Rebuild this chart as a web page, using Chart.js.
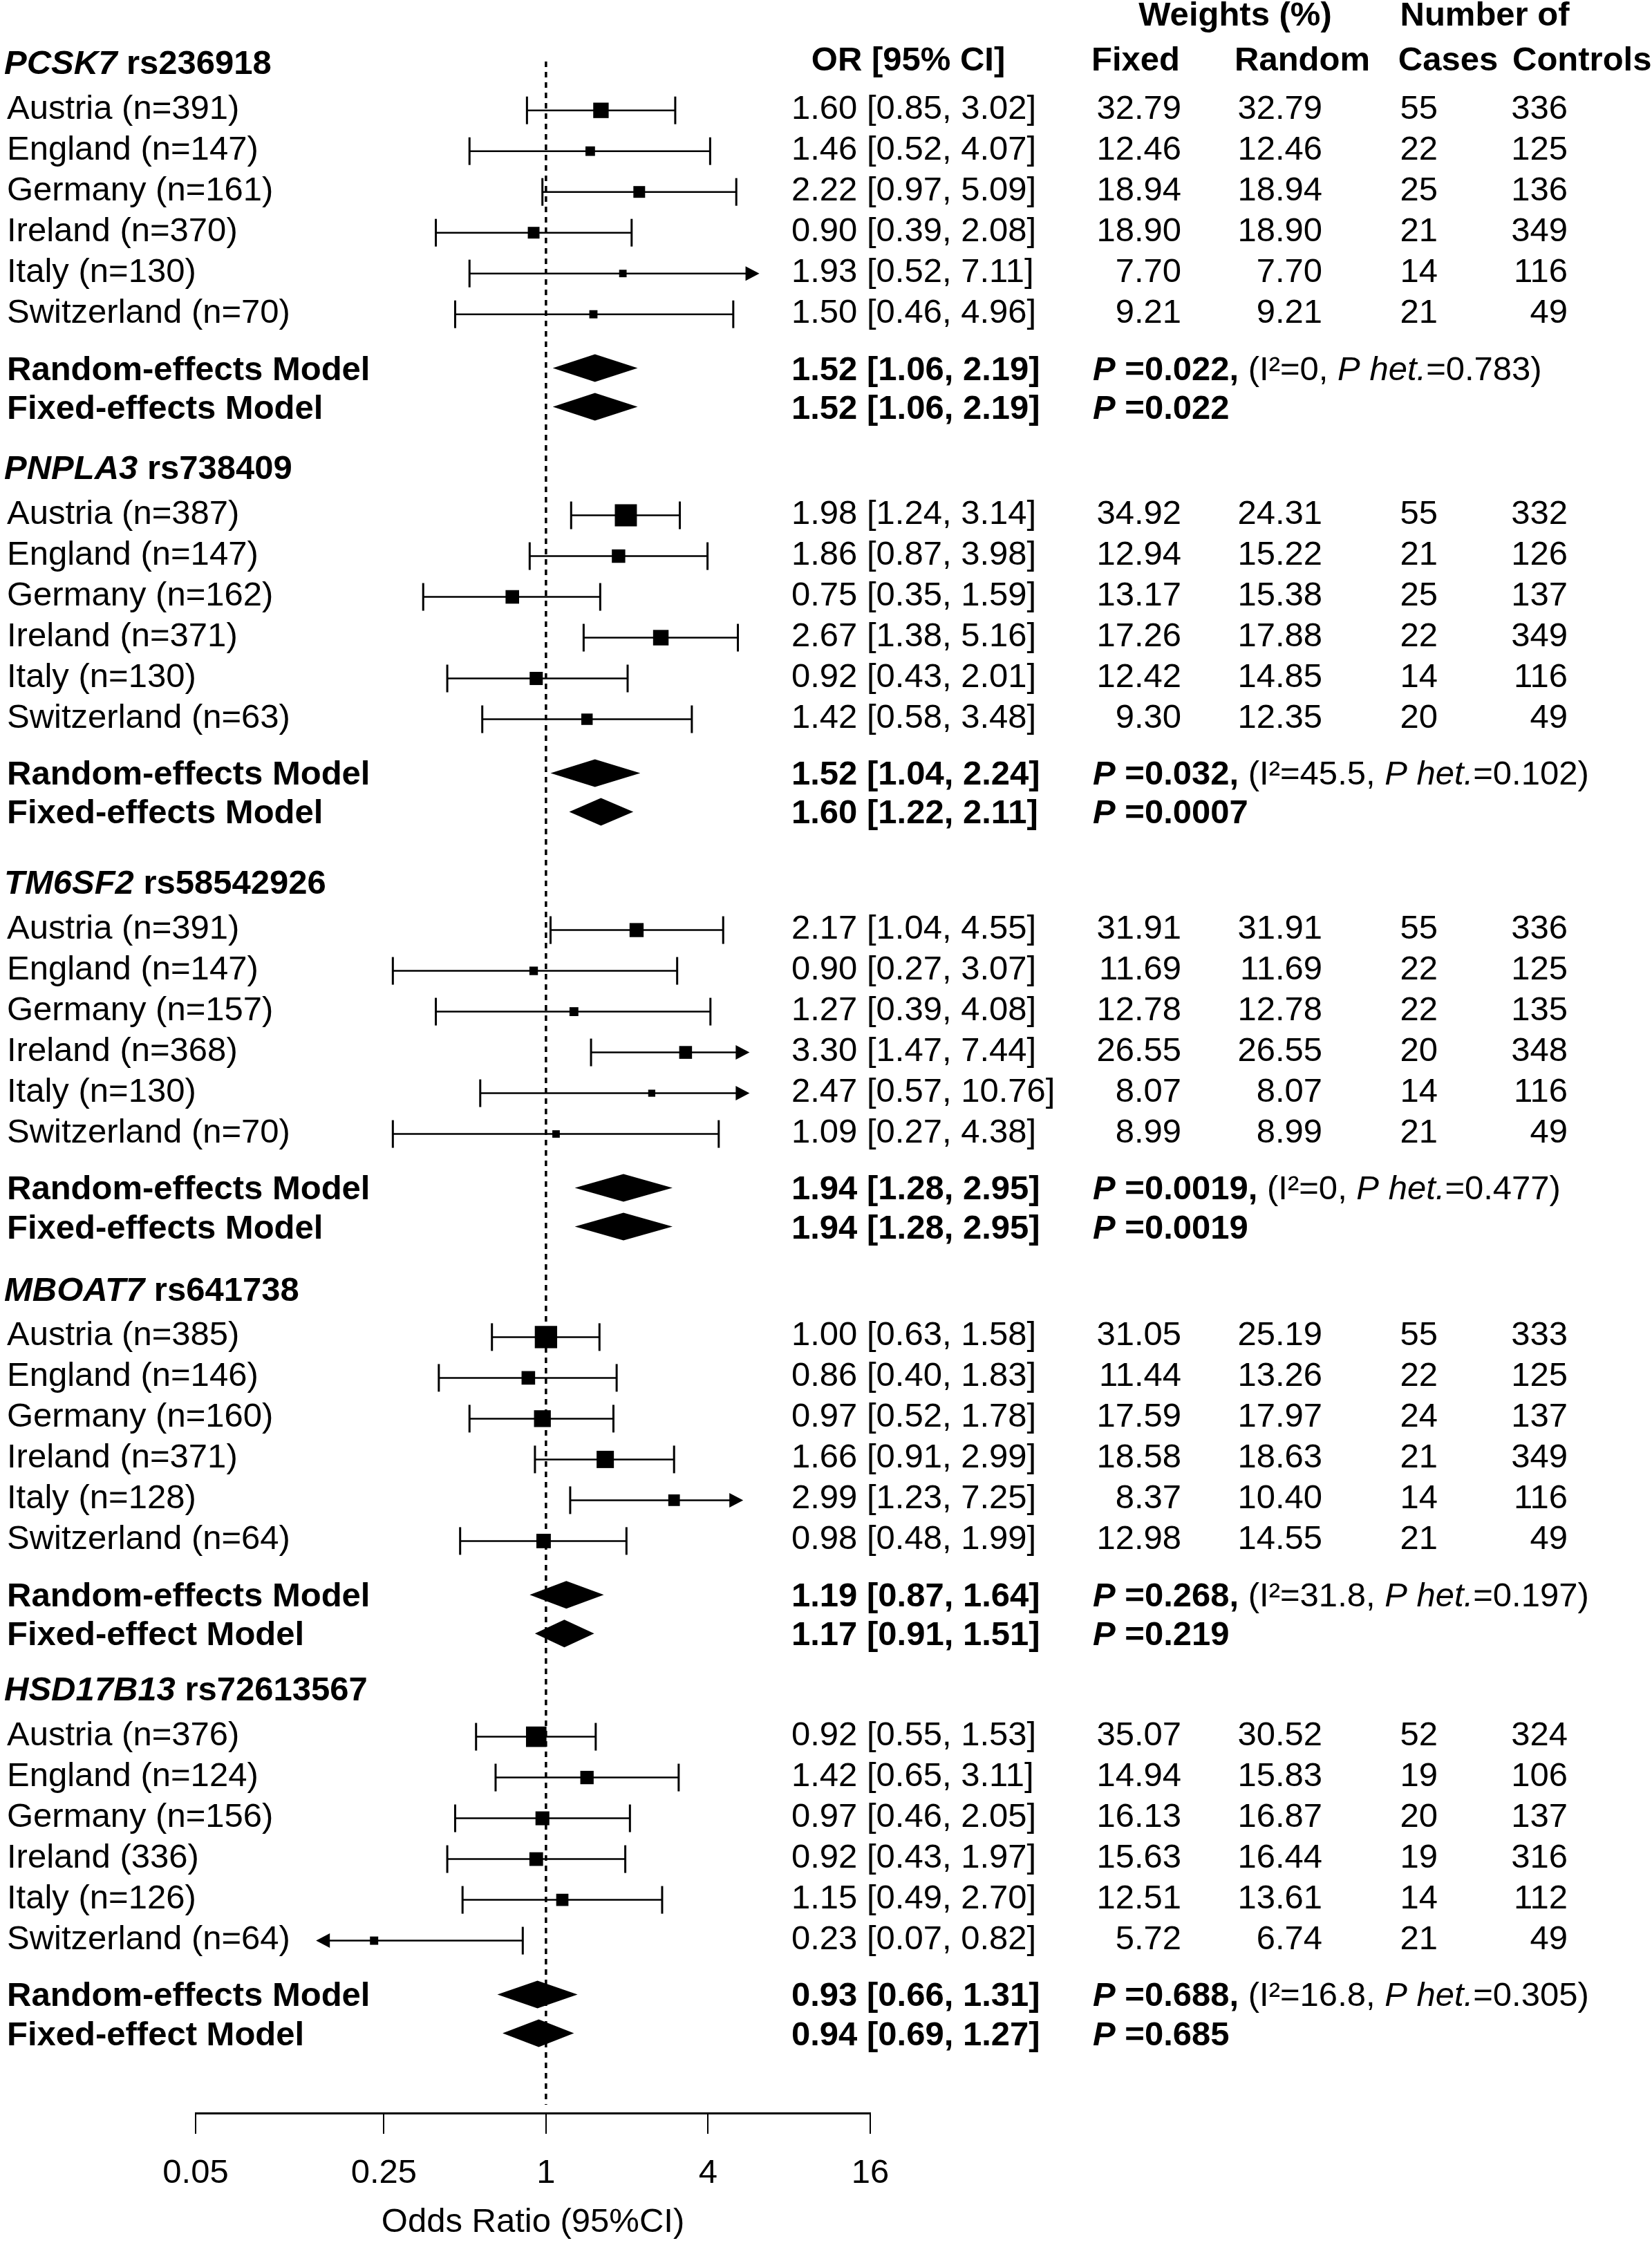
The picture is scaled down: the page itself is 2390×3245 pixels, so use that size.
<!DOCTYPE html>
<html>
<head>
<meta charset="utf-8">
<script src="https://cdn.jsdelivr.net/npm/chart.js@4.4.1/dist/chart.umd.min.js"></script>
<style>
  html, body { margin: 0; padding: 0; background: #fff; }
  canvas { display: block; }
</style>
</head>
<body>
<canvas id="forest" width="2390" height="3245"></canvas>
<script>
const genes = ['PCSK7', 'PNPLA3', 'TM6SF2', 'MBOAT7', 'HSD17B13'];
const snps = ['rs236918', 'rs738409', 'rs58542926', 'rs641738', 'rs72613567'];

const studyLabels = [
  ['Austria (n=391)', 'England (n=147)', 'Germany (n=161)', 'Ireland (n=370)', 'Italy (n=130)', 'Switzerland (n=70)'],
  ['Austria (n=387)', 'England (n=147)', 'Germany (n=162)', 'Ireland (n=371)', 'Italy (n=130)', 'Switzerland (n=63)'],
  ['Austria (n=391)', 'England (n=147)', 'Germany (n=157)', 'Ireland (n=368)', 'Italy (n=130)', 'Switzerland (n=70)'],
  ['Austria (n=385)', 'England (n=146)', 'Germany (n=160)', 'Ireland (n=371)', 'Italy (n=128)', 'Switzerland (n=64)'],
  ['Austria (n=376)', 'England (n=124)', 'Germany (n=156)', 'Ireland (336)', 'Italy (n=126)', 'Switzerland (n=64)']
];
const orEst = [
  [1.60, 1.46, 2.22, 0.90, 1.93, 1.50],
  [1.98, 1.86, 0.75, 2.67, 0.92, 1.42],
  [2.17, 0.90, 1.27, 3.30, 2.47, 1.09],
  [1.00, 0.86, 0.97, 1.66, 2.99, 0.98],
  [0.92, 1.42, 0.97, 0.92, 1.15, 0.23]
];
const orLo = [
  [0.85, 0.52, 0.97, 0.39, 0.52, 0.46],
  [1.24, 0.87, 0.35, 1.38, 0.43, 0.58],
  [1.04, 0.27, 0.39, 1.47, 0.57, 0.27],
  [0.63, 0.40, 0.52, 0.91, 1.23, 0.48],
  [0.55, 0.65, 0.46, 0.43, 0.49, 0.07]
];
const orHi = [
  [3.02, 4.07, 5.09, 2.08, 7.11, 4.96],
  [3.14, 3.98, 1.59, 5.16, 2.01, 3.48],
  [4.55, 3.07, 4.08, 7.44, 10.76, 4.38],
  [1.58, 1.83, 1.78, 2.99, 7.25, 1.99],
  [1.53, 3.11, 2.05, 1.97, 2.70, 0.82]
];
const weightFixed = [
  [32.79, 12.46, 18.94, 18.90, 7.70, 9.21],
  [34.92, 12.94, 13.17, 17.26, 12.42, 9.30],
  [31.91, 11.69, 12.78, 26.55, 8.07, 8.99],
  [31.05, 11.44, 17.59, 18.58, 8.37, 12.98],
  [35.07, 14.94, 16.13, 15.63, 12.51, 5.72]
];
const weightRandom = [
  [32.79, 12.46, 18.94, 18.90, 7.70, 9.21],
  [24.31, 15.22, 15.38, 17.88, 14.85, 12.35],
  [31.91, 11.69, 12.78, 26.55, 8.07, 8.99],
  [25.19, 13.26, 17.97, 18.63, 10.40, 14.55],
  [30.52, 15.83, 16.87, 16.44, 13.61, 6.74]
];
const cases = [
  [55, 22, 25, 21, 14, 21],
  [55, 21, 25, 22, 14, 20],
  [55, 22, 22, 20, 14, 21],
  [55, 22, 24, 21, 14, 21],
  [52, 19, 20, 19, 14, 21]
];
const controls = [
  [336, 125, 136, 349, 116, 49],
  [332, 126, 137, 349, 116, 49],
  [336, 125, 135, 348, 116, 49],
  [333, 125, 137, 349, 116, 49],
  [324, 106, 137, 316, 112, 49]
];

// pooled estimates
const randomEst = [1.52, 1.52, 1.94, 1.19, 0.93];
const randomLo = [1.06, 1.04, 1.28, 0.87, 0.66];
const randomHi = [2.19, 2.24, 2.95, 1.64, 1.31];
const randomP = ['0.022', '0.032', '0.0019', '0.268', '0.688'];
const iSquared = ['0', '45.5', '0', '31.8', '16.8'];
const pHet = ['0.783', '0.102', '0.477', '0.197', '0.305'];
const fixedEst = [1.52, 1.60, 1.94, 1.17, 0.94];
const fixedLo = [1.06, 1.22, 1.28, 0.91, 0.69];
const fixedHi = [2.19, 2.11, 2.95, 1.51, 1.27];
const fixedP = ['0.022', '0.0007', '0.0019', '0.219', '0.685'];
const fixedLabels = ['Fixed-effects Model', 'Fixed-effects Model', 'Fixed-effects Model', 'Fixed-effect Model', 'Fixed-effect Model'];

// x axis ticks
const tickValues = [0.05, 0.25, 1, 4, 16];
// intervals running past these limits end in an arrow (one pair per panel)
const arrowLo = [0.05, 0.05, 0.05, 0.05, 0.14];
const arrowHi = [6.2, 16, 5.7, 5.4, 16];

// Layout
const FONT = '"Liberation Sans", Arial, Helvetica, sans-serif';
const FS = 49;
const blockTop = [0, 9.93, 20.1, 30.08, 39.88]; // in row units
const boxScale = [3.9, 5.4, 3.6, 5.8, 5.0];    // square side per sqrt(weight)
const col = { label: 10, or: 1145, wf: 1709, wr: 1913, cases: 2080, controls: 2268, p: 1581 };

Chart.defaults.font.family = FONT;

const studyRow = (g, i) => blockTop[g] + 1.13 + i;
const randomRow = g => blockTop[g] + 7.45;
const fixedRow = g => blockTop[g] + 8.4;

function fmtCI(est, lo, hi) {
  return `${est.toFixed(2)} [${lo.toFixed(2)}, ${hi.toFixed(2)}]`;
}

function runs(ctx, x, y, parts) {
  parts.forEach(([text, style]) => {
    ctx.font = `${style} ${FS}px ${FONT}`;
    ctx.fillText(text, x, y);
    x += ctx.measureText(text).width;
  });
}

function diamond(ctx, x, py, est, lo, hi) {
  ctx.beginPath();
  ctx.moveTo(x.getPixelForValue(lo), py);
  ctx.lineTo(x.getPixelForValue(est), py - 20);
  ctx.lineTo(x.getPixelForValue(hi), py);
  ctx.lineTo(x.getPixelForValue(est), py + 20);
  ctx.closePath();
  ctx.fill();
}

const forestPlugin = {
  id: 'forest',
  beforeDatasetsDraw(chart) {
    const { ctx, chartArea } = chart;
    const { x, y } = chart.scales;
    ctx.save();
    ctx.strokeStyle = '#000';
    ctx.fillStyle = '#000';

    // reference line at OR = 1
    const x1 = x.getPixelForValue(1);
    ctx.lineWidth = 3.5;
    ctx.setLineDash([8, 7]);
    ctx.beginPath();
    ctx.moveTo(x1, chartArea.top + 89);
    ctx.lineTo(x1, chartArea.bottom - 12);
    ctx.stroke();
    ctx.setLineDash([]);

    genes.forEach((gene, g) => {
      orEst[g].forEach((est, i) => {
        const py = y.getPixelForValue(studyRow(g, i));
        const cutLo = orLo[g][i] < arrowLo[g];
        const cutHi = orHi[g][i] > arrowHi[g];
        const xl = x.getPixelForValue(cutLo ? arrowLo[g] : orLo[g][i]);
        const xh = x.getPixelForValue(cutHi ? arrowHi[g] : orHi[g][i]);

        ctx.lineWidth = 2.5;
        ctx.beginPath();
        ctx.moveTo(cutLo ? xl + 18 : xl, py);
        ctx.lineTo(cutHi ? xh - 18 : xh, py);
        ctx.stroke();

        ctx.lineWidth = 3;
        if (cutLo) {
          ctx.beginPath();
          ctx.moveTo(xl, py);
          ctx.lineTo(xl + 20, py - 10.5);
          ctx.lineTo(xl + 20, py + 10.5);
          ctx.closePath();
          ctx.fill();
        } else {
          ctx.beginPath();
          ctx.moveTo(xl, py - 20);
          ctx.lineTo(xl, py + 20);
          ctx.stroke();
        }
        if (cutHi) {
          ctx.beginPath();
          ctx.moveTo(xh, py);
          ctx.lineTo(xh - 20, py - 10.5);
          ctx.lineTo(xh - 20, py + 10.5);
          ctx.closePath();
          ctx.fill();
        } else {
          ctx.beginPath();
          ctx.moveTo(xh, py - 20);
          ctx.lineTo(xh, py + 20);
          ctx.stroke();
        }
      });

      diamond(ctx, x, y.getPixelForValue(randomRow(g)), randomEst[g], randomLo[g], randomHi[g]);
      diamond(ctx, x, y.getPixelForValue(fixedRow(g)), fixedEst[g], fixedLo[g], fixedHi[g]);
    });
    ctx.restore();
  },

  afterDraw(chart) {
    const { ctx, chartArea } = chart;
    const { y } = chart.scales;
    const top = chartArea.top;
    ctx.save();
    ctx.fillStyle = '#000';
    ctx.textBaseline = 'alphabetic';

    // column headers
    ctx.font = `bold ${FS}px ${FONT}`;
    ctx.textAlign = 'center';
    ctx.fillText('Weights (%)', 1787, top + 37);
    ctx.fillText('Number of', 2148, top + 37);
    ctx.fillText('OR [95% CI]', 1314, top + 102);
    ctx.fillText('Fixed', 1643, top + 102);
    ctx.fillText('Random', 1884, top + 102);
    ctx.fillText('Cases', 2095, top + 102);
    ctx.textAlign = 'left';
    ctx.fillText('Controls', 2188, top + 102);

    genes.forEach((gene, g) => {
      const hy = y.getPixelForValue(blockTop[g]) + 14;
      ctx.textAlign = 'left';
      runs(ctx, 6, hy, [[gene, 'italic bold'], [' ' + snps[g], 'bold']]);

      studyLabels[g].forEach((label, i) => {
        const by = y.getPixelForValue(studyRow(g, i)) + 12;
        ctx.font = `${FS}px ${FONT}`;
        ctx.textAlign = 'left';
        ctx.fillText(label, col.label, by);
        ctx.fillText(fmtCI(orEst[g][i], orLo[g][i], orHi[g][i]), col.or, by);
        ctx.textAlign = 'right';
        ctx.fillText(weightFixed[g][i].toFixed(2), col.wf, by);
        ctx.fillText(weightRandom[g][i].toFixed(2), col.wr, by);
        ctx.fillText(String(cases[g][i]), col.cases, by);
        ctx.fillText(String(controls[g][i]), col.controls, by);
      });

      // pooled rows
      ctx.textAlign = 'left';
      const ry = y.getPixelForValue(randomRow(g)) + 17;
      ctx.font = `bold ${FS}px ${FONT}`;
      ctx.fillText('Random-effects Model', col.label, ry);
      ctx.fillText(fmtCI(randomEst[g], randomLo[g], randomHi[g]), col.or, ry);
      runs(ctx, col.p, ry, [
        ['P', 'italic bold'],
        [' =' + randomP[g] + ',', 'bold'],
        [' (I\u00B2=' + iSquared[g] + ', ', 'normal'],
        ['P het.', 'italic'],
        ['=' + pHet[g] + ')', 'normal']
      ]);

      const fy = y.getPixelForValue(fixedRow(g)) + 17;
      ctx.font = `bold ${FS}px ${FONT}`;
      ctx.fillText(fixedLabels[g], col.label, fy);
      ctx.fillText(fmtCI(fixedEst[g], fixedLo[g], fixedHi[g]), col.or, fy);
      runs(ctx, col.p, fy, [['P', 'italic bold'], [' =' + fixedP[g], 'bold']]);
    });
    ctx.restore();
  }
};

const datasets = genes.map((gene, g) => ({
  label: gene,
  data: orEst[g].map((v, i) => ({ x: v, y: studyRow(g, i) })),
  pointStyle: 'rect',
  backgroundColor: '#000',
  borderWidth: 0,
  pointRadius: weightFixed[g].map(w => boxScale[g] * Math.sqrt(w) / Math.SQRT2),
  showLine: false
}));

new Chart(document.getElementById('forest'), {
  type: 'scatter',
  data: { datasets },
  options: {
    responsive: false,
    animation: false,
    events: [],
    layout: { autoPadding: false, padding: { left: 283, right: 1131, top: 0, bottom: 0 } },
    plugins: { legend: { display: false }, tooltip: { enabled: false } },
    scales: {
      x: {
        type: 'logarithmic',
        position: 'bottom',
        min: 0.05,
        max: 16,
        bounds: 'data',
        afterBuildTicks: s => { s.ticks = tickValues.map(v => ({ value: v })); },
        afterFit: s => { s.height = 188; },
        ticks: {
          color: '#000',
          font: { size: FS },
          padding: 28,
          maxRotation: 0,
          autoSkip: false,
          callback: v => String(v)
        },
        grid: { drawOnChartArea: false, drawTicks: true, tickLength: 30, color: '#000', lineWidth: 2 },
        border: { display: true, color: '#000', width: 3 },
        title: { display: true, text: 'Odds Ratio (95%CI)', color: '#000', font: { size: FS }, padding: 0 }
      },
      y: {
        type: 'linear',
        display: false,
        reverse: true,
        min: -93 / 59,
        max: (3057 - 93) / 59
      }
    }
  },
  plugins: [forestPlugin]
});
</script>
</body>
</html>
